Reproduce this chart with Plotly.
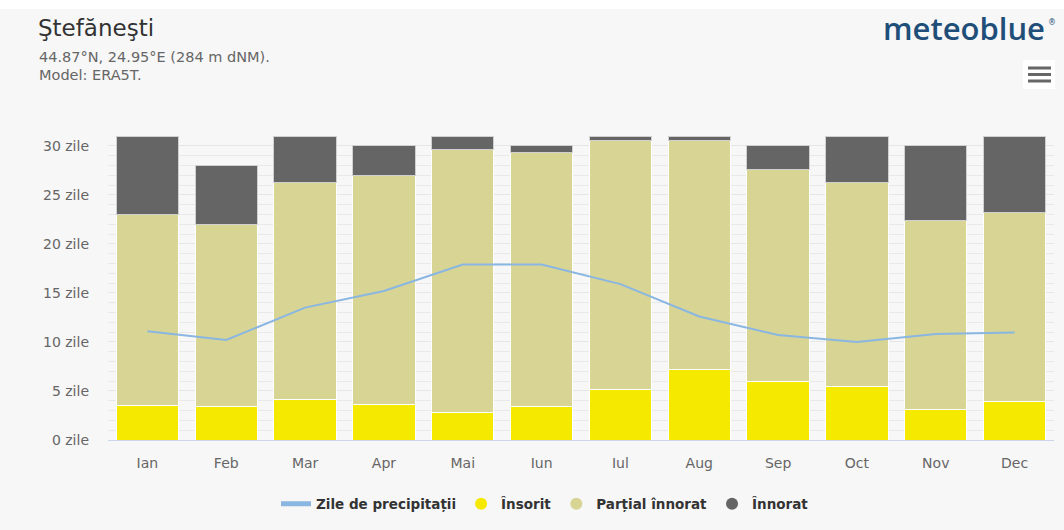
import plotly.graph_objects as go

months = ["Ian", "Feb", "Mar", "Apr", "Mai", "Iun", "Iul", "Aug", "Sep", "Oct", "Nov", "Dec"]
sunny = [3.5, 3.4, 4.1, 3.6, 2.8, 3.4, 5.2, 7.2, 6.0, 5.5, 3.1, 3.9]
partly = [19.5, 18.6, 22.2, 23.4, 26.8, 25.9, 25.3, 23.3, 21.6, 20.8, 19.3, 19.3]
overcast = [8.0, 6.0, 4.7, 3.0, 1.4, 0.7, 0.5, 0.5, 2.4, 4.7, 7.6, 7.8]
precip_days = [11.1, 10.2, 13.5, 15.2, 17.9, 17.9, 15.9, 12.6, 10.7, 10.0, 10.8, 10.95]
y_ticks = [0, 5, 10, 15, 20, 25, 30]
y_labels = [f"{v} zile" for v in y_ticks]

W, H = 1064, 530
L, R, T, B = 108, 10, 136, 90
PW, PH = W - L - R, H - T - B

def px(x):
    return (x - L) / PW

def py(y):
    return (H - B - y) / PH

C_SUN = "#f5e900"
C_PART = "#d7d494"
C_OVER = "#656565"
C_LINE = "#8ab6e2"
FONT = "DejaVu Sans"

fig = go.Figure()
fig.add_trace(go.Bar(x=months, y=sunny, name="Însorit", marker=dict(color=C_SUN, line=dict(color="#ffffff", width=1)), showlegend=False))
fig.add_trace(go.Bar(x=months, y=partly, name="Parțial înnorat", marker=dict(color=C_PART, line=dict(color="#ffffff", width=1)), showlegend=False))
fig.add_trace(go.Bar(x=months, y=overcast, name="Înnorat", marker=dict(color=C_OVER, line=dict(color="#d0d0d0", width=1)), showlegend=False))
fig.add_trace(go.Scatter(x=months, y=precip_days, mode="lines", name="Zile de precipitații", line=dict(color=C_LINE, width=2)))
# legend entries with circle symbols
for name, col in [("Însorit", C_SUN), ("Parțial înnorat", C_PART), ("Înnorat", C_OVER)]:
    fig.add_trace(go.Scatter(x=[None], y=[None], mode="markers", name=name,
                             marker=dict(color=col, size=14, symbol="circle")))

fig.update_layout(
    width=W, height=H,
    margin=dict(l=L, r=R, t=T, b=B, pad=0),
    barmode="stack", bargap=0.21,
    paper_bgcolor="#f7f7f7", plot_bgcolor="#f7f7f7",
    font=dict(family=FONT, size=14, color="#666666"),
    legend=dict(orientation="h", x=px(545), xanchor="center", y=py(504), yanchor="middle",
                font=dict(size=13.5, color="#333333", weight="bold", family=FONT), bgcolor="rgba(0,0,0,0)",
                itemsizing="constant", traceorder="normal"),
    xaxis=dict(showgrid=False, showline=True, linecolor="#ccd6eb", linewidth=1,
               ticks="", tickfont=dict(size=14, color="#666666"), ticklabelstandoff=10),
    yaxis=dict(range=[0, 31], tickvals=y_ticks, ticktext=y_labels, showgrid=True,
               gridcolor="#e6e6e6", gridwidth=1, zeroline=False, showline=False,
               tickfont=dict(size=14, color="#666666"), ticklabelstandoff=18,
               minor=dict(dtick=1, showgrid=True, gridcolor="#e9e9e9", gridwidth=1)),
    showlegend=True,
)

fig.add_annotation(text="Ştefăneşti", xref="paper", yref="paper", x=px(36), y=py(28),
                   xanchor="left", yanchor="middle", showarrow=False,
                   font=dict(size=23, color="#333333", family=FONT))
fig.add_annotation(text="44.87°N, 24.95°E (284 m dNM).", xref="paper", yref="paper", x=px(37), y=py(57),
                   xanchor="left", yanchor="middle", showarrow=False,
                   font=dict(size=14.5, color="#666666", family=FONT))
fig.add_annotation(text="Model: ERA5T.", xref="paper", yref="paper", x=px(37), y=py(75),
                   xanchor="left", yanchor="middle", showarrow=False,
                   font=dict(size=14.5, color="#666666", family=FONT))
fig.add_annotation(text="meteoblue", xref="paper", yref="paper", x=px(1047), y=py(28),
                   xanchor="right", yanchor="middle", showarrow=False,
                   font=dict(size=31, color="#1f4e79", family="Open Sans", weight=600))
fig.add_annotation(text="®", xref="paper", yref="paper", x=px(1046), y=py(22),
                   xanchor="left", yanchor="middle", showarrow=False,
                   font=dict(size=8, color="#1f4e79", family=FONT))

shapes = [
    dict(type="rect", xref="paper", yref="paper", x0=px(0), x1=px(W), y0=py(0), y1=py(9),
         fillcolor="#ffffff", line=dict(width=0), layer="below"),
    dict(type="rect", xref="paper", yref="paper", x0=px(1023), x1=px(1055), y0=py(60), y1=py(89),
         fillcolor="#ffffff", line=dict(width=0)),
]
for yy in (68, 74.5, 81):
    shapes.append(dict(type="line", xref="paper", yref="paper", x0=px(1028), x1=px(1051), y0=py(yy), y1=py(yy),
                       line=dict(color="#666666", width=3)))
fig.update_layout(shapes=shapes)

fig.write_html("out.html", config={"displayModeBar": False},
               post_script="document.body.style.margin='0px';document.body.style.overflow='hidden';")
